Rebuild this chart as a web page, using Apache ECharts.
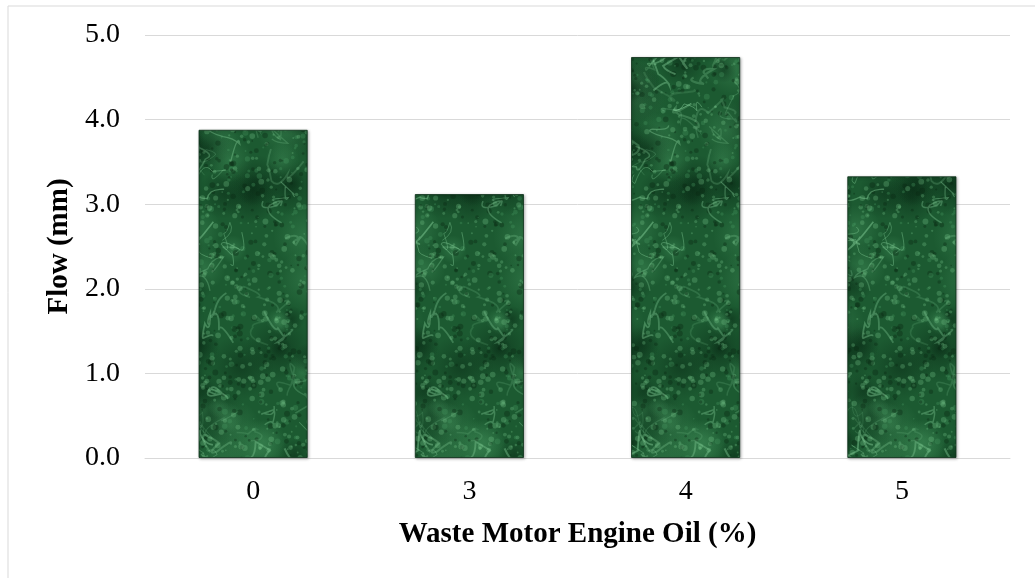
<!DOCTYPE html>
<html>
<head>
<meta charset="utf-8">
<script src="https://cdn.jsdelivr.net/npm/echarts@6/dist/echarts.min.js"></script>
<style>
  html, body { margin: 0; padding: 0; background: #fff; }
  #chart { width: 1035px; height: 578px; }
</style>
</head>
<body>
<div id="chart"></div>
<script>
// 数据
const categories = ['0', '3', '4', '5'];
const flowValues = [3.88, 3.12, 4.74, 3.33];
const yTicks = [0, 1, 2, 3, 4, 5];

// 绿色大理石纹理（固定种子，只是样式；四周环绕绘制，避免拼接缝）
function makeMarble() {
    const W = 220, H = 440;
    const c = document.createElement('canvas');
    c.width = W; c.height = H;
    const ctx = c.getContext('2d');
    ctx.fillStyle = '#1c5a31';
    ctx.fillRect(0, 0, W, H);
    let seed = 12345;
    const rnd = () => { seed = (seed * 16807) % 2147483647; return seed / 2147483647; };
    const wrap = (draw) => {
        for (const dx of [-W, 0, W]) for (const dy of [-H, 0, H]) {
            ctx.save(); ctx.translate(dx, dy); draw(); ctx.restore();
        }
    };
    // 大块明暗
    for (let i = 0; i < 70; i++) {
        const x = rnd() * W, y = rnd() * H, r = 10 + rnd() * 24;
        const dark = rnd() < 0.55;
        wrap(() => {
            const g = ctx.createRadialGradient(x, y, 0, x, y, r);
            g.addColorStop(0, dark ? 'rgba(8,40,20,0.5)' : 'rgba(70,150,95,0.4)');
            g.addColorStop(1, dark ? 'rgba(8,40,20,0)' : 'rgba(70,150,95,0)');
            ctx.fillStyle = g;
            ctx.beginPath(); ctx.arc(x, y, r, 0, Math.PI * 2); ctx.fill();
        });
    }
    // 小斑点
    for (let i = 0; i < 1600; i++) {
        const x = rnd() * W, y = rnd() * H, r = 0.8 + rnd() * 2.2, t = rnd();
        const col = t < 0.45 ? 'rgba(120,200,140,0.3)' : (t < 0.8 ? 'rgba(8,38,18,0.35)' : 'rgba(70,150,95,0.35)');
        wrap(() => {
            ctx.fillStyle = col;
            ctx.beginPath(); ctx.arc(x, y, r, 0, Math.PI * 2); ctx.fill();
        });
    }
    // 浅色纹路
    for (let i = 0; i < 80; i++) {
        const pts = [];
        let x = rnd() * W, y = rnd() * H;
        pts.push([x, y]);
        for (let k = 0; k < 4; k++) {
            const cx = x + (rnd() - 0.5) * 24, cy = y + (rnd() - 0.5) * 24;
            x += (rnd() - 0.5) * 36; y += (rnd() - 0.5) * 36;
            pts.push([cx, cy, x, y]);
        }
        const alpha = 0.15 + rnd() * 0.3, lw = 0.8 + rnd() * 1.4;
        wrap(() => {
            ctx.strokeStyle = 'rgba(140,215,160,' + alpha + ')';
            ctx.lineWidth = lw;
            ctx.beginPath();
            ctx.moveTo(pts[0][0], pts[0][1]);
            for (let k = 1; k < pts.length; k++) ctx.quadraticCurveTo(pts[k][0], pts[k][1], pts[k][2], pts[k][3]);
            ctx.stroke();
        });
    }
    return c;
}

const chart = echarts.init(document.getElementById('chart'));
const font = '"Liberation Serif", "Times New Roman", serif';

const option = {
    animation: false,
    backgroundColor: '#fff',
    graphic: [{
        type: 'rect',
        shape: { x: 8, y: 6, width: 1040, height: 600 },
        style: { fill: 'none', stroke: '#d9d9d9', lineWidth: 1 },
        silent: true
    }],
    grid: { left: 145, right: 25, top: 35, bottom: 120 },
    xAxis: {
        type: 'category',
        data: categories,
        name: 'Waste Motor Engine Oil (%)',
        nameLocation: 'middle',
        nameGap: 62,
        nameTextStyle: { fontFamily: font, fontSize: 29, fontWeight: 'bold', color: '#000' },
        axisLine: { lineStyle: { color: '#d9d9d9', width: 1 } },
        axisTick: { show: false },
        axisLabel: { fontFamily: font, fontSize: 28, color: '#000', margin: 20 }
    },
    yAxis: {
        type: 'value',
        min: yTicks[0],
        max: yTicks[yTicks.length - 1],
        interval: 1,
        name: 'Flow (mm)',
        nameLocation: 'middle',
        nameGap: 71,
        nameTextStyle: { fontFamily: font, fontSize: 29, fontWeight: 'bold', color: '#000' },
        axisLine: { show: false },
        axisTick: { show: false },
        splitLine: { lineStyle: { color: '#d9d9d9', width: 1 } },
        axisLabel: {
            fontFamily: font, fontSize: 28, color: '#000', margin: 25,
            formatter: v => v.toFixed(1)
        }
    },
    series: [{
        type: 'bar',
        data: flowValues,
        barWidth: '50.5%',
        itemStyle: {
            color: { image: makeMarble(), repeat: 'repeat' },
            borderColor: 'rgba(10,45,22,0.8)',
            borderWidth: 1,
            shadowColor: 'rgba(0,0,0,0.3)',
            shadowBlur: 3,
            shadowOffsetX: 1,
            shadowOffsetY: 1
        }
    }]
};
chart.setOption(option);
</script>
</body>
</html>
